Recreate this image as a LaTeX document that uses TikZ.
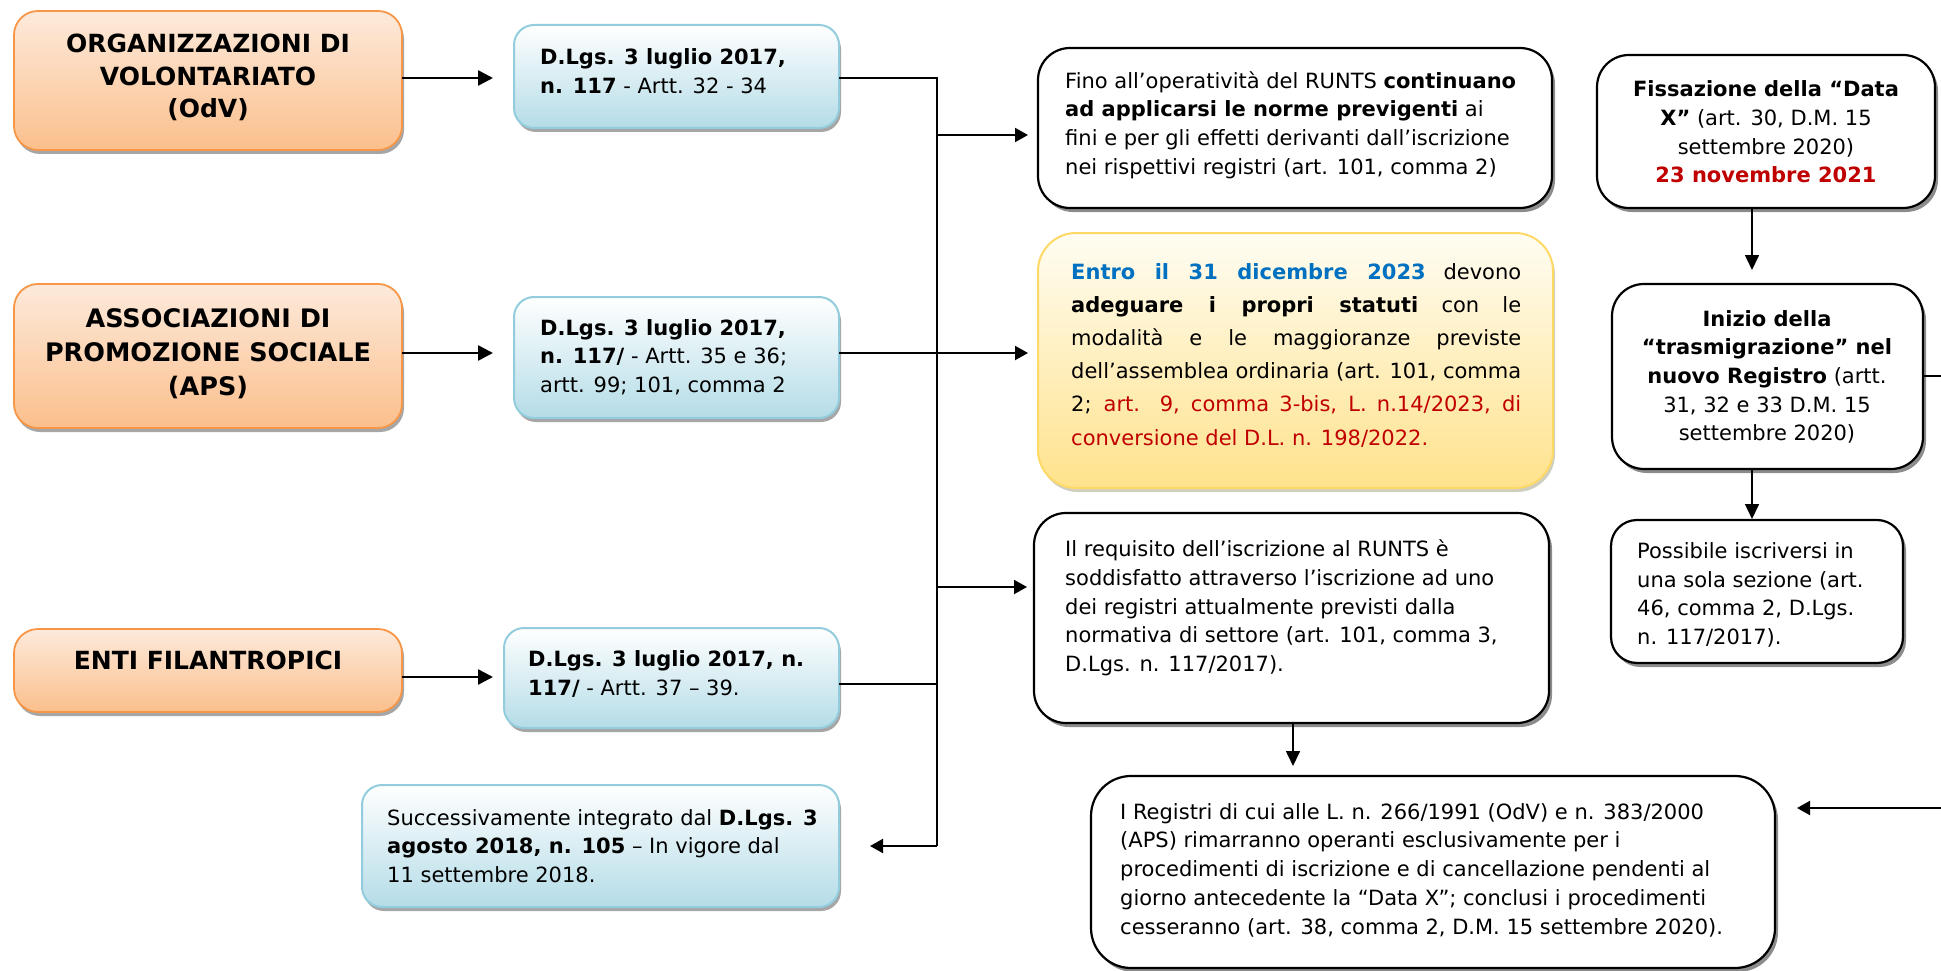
\documentclass[tikz,border=0pt]{standalone}
\usepackage{fontspec}
\setmainfont{DejaVu Sans}
\usetikzlibrary{shadows,arrows.meta,calc}
\definecolor{orTop}{HTML}{FDEADB}
\definecolor{orBot}{HTML}{FBBF8C}
\definecolor{orLine}{HTML}{F79646}
\definecolor{blTop}{HTML}{FFFFFF}
\definecolor{blBot}{HTML}{B4DCE7}
\definecolor{blLine}{HTML}{93CDDD}
\definecolor{yeTop}{HTML}{FFFDF3}
\definecolor{yeBot}{HTML}{FFE28C}
\definecolor{yeLine}{HTML}{FFD966}
\definecolor{txtBlue}{HTML}{0070C0}
\definecolor{txtRed}{HTML}{C00000}
\begin{document}
\begin{tikzpicture}[x=1pt,y=-1pt,
  box/.style={rectangle, inner sep=0pt, outer sep=0pt},
  obox/.style={box, draw=orLine, line width=1.8pt, rounded corners=24pt,
    top color=orTop, bottom color=orBot,
    drop shadow={shadow xshift=2pt, shadow yshift=-4pt, fill=black, opacity=.35}},
  bbox/.style={box, draw=blLine, line width=2pt, rounded corners=20pt,
    top color=blTop, bottom color=blBot,
    drop shadow={shadow xshift=2pt, shadow yshift=-4pt, fill=black, opacity=.35}},
  ybox/.style={box, draw=yeLine, line width=2pt, rounded corners=38pt,
    top color=yeTop, bottom color=yeBot,
    drop shadow={shadow xshift=2pt, shadow yshift=-4pt, fill=black!60!yellow, opacity=.35}},
  wbox/.style={box, draw=black, line width=2.2pt, rounded corners=32pt, fill=white,
    drop shadow={shadow xshift=3pt, shadow yshift=-4pt, fill=black, opacity=.45}},
  body/.style={inner sep=0pt, font=\fontsize{21}{28.7}\selectfont, align=left},
  head/.style={inner sep=0pt, align=center},
  thickarr/.style={line width=2.6pt, -{Triangle[length=15pt,width=15pt]}},
  arr/.style={line width=2pt, -{Triangle[length=13pt,width=14pt]}},
  thinarr/.style={line width=1.6pt, -{Triangle[length=15pt,width=14pt]}},
  conn/.style={line width=2pt}
]
\useasboundingbox (0,0) rectangle (1941,971);
\clip (0,0) rectangle (1941,971);

% ---------- left column: orange boxes ----------
\node[obox, minimum width=388pt, minimum height=139pt] (odv) at (208,80.5) {};
\node[head, font=\fontsize{25}{32.5}\selectfont\bfseries] (odvT) at (208,77.5)
  {ORGANIZZAZIONI DI\\VOLONTARIATO\\(OdV)};
\node[obox, minimum width=388pt, minimum height=144pt] (aps) at (208,356) {};
\node[head, font=\fontsize{25.5}{34}\selectfont\bfseries] (apsT) at (208,354)
  {ASSOCIAZIONI DI\\PROMOZIONE SOCIALE\\(APS)};
\node[obox, minimum width=388pt, minimum height=83pt] (enti) at (208,670.5) {};
\node[head, font=\fontsize{25}{32}\selectfont\bfseries] (entiT) at (208,660)
  {ENTI FILANTROPICI};

% ---------- blue boxes ----------
\node[bbox, minimum width=325pt, minimum height=103pt] (b1) at (676.5,76.5) {};
\node[body, anchor=west] (b1T) at (540,71)
  {\textbf{D.Lgs. 3 luglio 2017,}\\\textbf{n. 117} - Artt. 32 - 34};
\node[bbox, minimum width=325pt, minimum height=121pt] (b2) at (676.5,357.5) {};
\node[body, anchor=west] (b2T) at (540,357)
  {\textbf{D.Lgs. 3 luglio 2017,}\\\textbf{n. 117/} - Artt. 35 e 36;\\artt. 99; 101, comma 2};
\node[bbox, minimum width=335pt, minimum height=100pt] (b3) at (671.5,678) {};
\node[body, anchor=west] (b3T) at (528,674)
  {\textbf{D.Lgs. 3 luglio 2017, n.}\\\textbf{117/} - Artt. 37 – 39.};
\node[bbox, minimum width=477pt, minimum height=122pt] (b4) at (600.5,846) {};
\node[body, anchor=west] (b4T) at (387,846)
  {Successivamente integrato dal \textbf{D.Lgs. 3}\\\textbf{agosto 2018, n. 105} – In vigore dal\\11 settembre 2018.};

% ---------- middle column ----------
\node[wbox, minimum width=514pt, minimum height=160pt] (fino) at (1295,128) {};
\node[body, anchor=west] (finoT) at (1065,125)
  {Fino all’operatività del RUNTS \textbf{continuano}\\
   \textbf{ad applicarsi le norme previgenti} ai\\
   fini e per gli effetti derivanti dall’iscrizione\\
   nei rispettivi registri (art. 101, comma 2)};

\node[ybox, minimum width=515pt, minimum height=255pt] (yel) at (1295.5,360.5) {};
\node[inner sep=0pt, anchor=west, align=left, font=\fontsize{21}{33.2}\selectfont] (yelT) at (1071,355)
  {\makebox[450pt][s]{\textcolor{txtBlue}{\textbf{Entro il 31 dicembre 2023}} devono}\\
   \makebox[450pt][s]{\textbf{adeguare i propri statuti} con le}\\
   \makebox[450pt][s]{modalità e le maggioranze previste}\\
   \makebox[450pt][s]{dell’assemblea ordinaria (art. 101, comma}\\
   \makebox[450pt][s]{2; \textcolor{txtRed}{art. 9, comma 3-bis, L. n.14/2023, di}}\\
   \textcolor{txtRed}{conversione del D.L. n. 198/2022.}};

\node[wbox, minimum width=515pt, minimum height=210pt] (req) at (1291.5,618) {};
\node[body, anchor=west] (reqT) at (1065,608)
  {Il requisito dell’iscrizione al RUNTS è\\
   soddisfatto attraverso l’iscrizione ad uno\\
   dei registri attualmente previsti dalla\\
   normativa di settore (art. 101, comma 3,\\
   D.Lgs. n. 117/2017).};

\node[wbox, rounded corners=40pt, minimum width=684pt, minimum height=192pt] (bot) at (1433,872) {};
\node[body, anchor=west] (botT) at (1120,870)
  {I Registri di cui alle L. n. 266/1991 (OdV) e n. 383/2000\\
   (APS) rimarranno operanti esclusivamente per i\\
   procedimenti di iscrizione e di cancellazione pendenti al\\
   giorno antecedente la “Data X”; conclusi i procedimenti\\
   cesseranno (art. 38, comma 2, D.M. 15 settembre 2020).};

% ---------- right column ----------
\node[wbox, minimum width=338pt, minimum height=153pt] (fis) at (1766,131.5) {};
\node[body, align=center] (fisT) at (1766,132)
  {\textbf{Fissazione della “Data}\\\textbf{X”} (art. 30, D.M. 15\\settembre 2020)\\
   \textcolor{txtRed}{\textbf{23 novembre 2021}}};
\node[wbox, minimum width=311pt, minimum height=185pt] (ini) at (1767.5,376.5) {};
\node[body, align=center] (iniT) at (1767,377)
  {\textbf{Inizio della}\\\textbf{“trasmigrazione” nel}\\\textbf{nuovo Registro} (artt.\\31, 32 e 33 D.M. 15\\settembre 2020)};
\node[wbox, rounded corners=26pt, minimum width=292pt, minimum height=143pt] (pos) at (1757,591.5) {};
\node[body, anchor=west] (posT) at (1637,595)
  {Possibile iscriversi in\\una sola sezione (art.\\46, comma 2, D.Lgs.\\n. 117/2017).};

% ---------- connectors ----------
\coordinate (jt) at (937,78);
\coordinate (jb) at (937,846);
\coordinate (rt) at (1990,376);
\coordinate (rb) at (1990,808);

\draw[thickarr, shorten >=21pt] (odv.east |- 0,78) -- (b1.west |- 0,78);
\draw[thickarr, shorten >=21pt] (aps.east |- 0,353) -- (b2.west |- 0,353);
\draw[thickarr, shorten >=11pt] (enti.east |- 0,677) -- (b3.west |- 0,677);

\draw[conn] (b1.east |- jt) -- (jt) -- (jb);
\draw[conn] (b3.east |- 0,684) -- (jt |- 0,684);
\draw[arr, shorten >=31pt] (jb) -- (b4.east |- jb);
\draw[arr, shorten >=10pt] (jt |- 0,135) -- (fino.west |- 0,135);
\draw[arr, shorten >=10pt] (b2.east |- 0,353) -- (yel.west |- 0,353);
\draw[arr, shorten >=7pt] (jt |- 0,587) -- (req.west |- 0,587);

\draw[thinarr, shorten >=14pt] (fis.south -| 1752,0) -- (ini.north -| 1752,0);
\draw[thinarr, shorten >=1pt] (ini.south -| 1752,0) -- (pos.north -| 1752,0);
\draw[thinarr, shorten >=10pt] (req.south -| 1293,0) -- (bot.north -| 1293,0);
\draw[arr, shorten >=22pt] (ini.east |- rt) -- (rt) -- (rb) -- (bot.east |- rb);
\end{tikzpicture}
\end{document}
